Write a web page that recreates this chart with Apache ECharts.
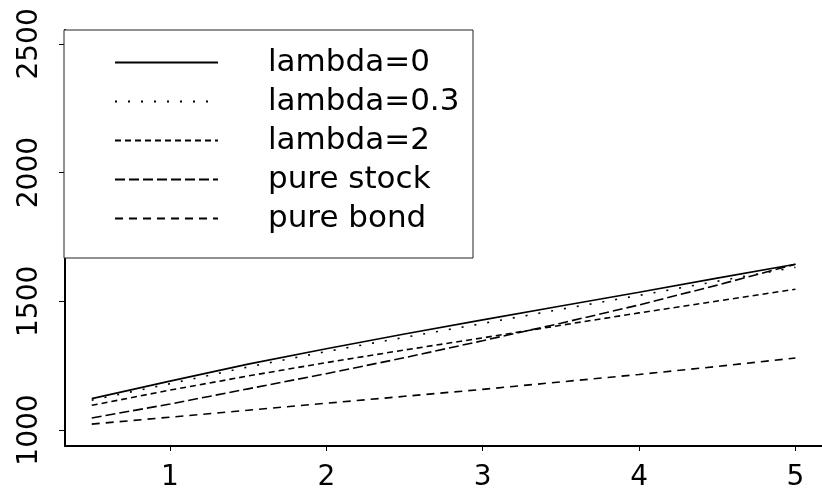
<!DOCTYPE html>
<html>
<head>
<meta charset="utf-8">
<script src="https://cdn.jsdelivr.net/npm/echarts@6/dist/echarts.min.js"></script>
<style>
html,body{margin:0;padding:0;background:#fff;}
#c{width:822px;height:492px;}
</style>
</head>
<body>
<div id="c"></div>
<script>
var xs = [0.5, 1, 1.5, 2, 2.5, 3, 3.5, 4, 4.5, 5];
var seriesNames = ['lambda=0', 'lambda=0.3', 'lambda=2', 'pure stock', 'pure bond'];
var lambda0   = [1122, 1190, 1256, 1316, 1373, 1428, 1482, 1535, 1590, 1644];
var lambda03  = [1116, 1180, 1245, 1305, 1360, 1414, 1469, 1523, 1578, 1632];
var lambda2   = [1096, 1155, 1210, 1262, 1311, 1358, 1407, 1455, 1501, 1547];
var pureStock = [1047, 1101, 1160, 1219, 1281, 1347, 1415, 1486, 1563, 1644];
var pureBond  = [1023, 1050, 1077, 1104, 1131, 1158, 1187, 1216, 1247, 1280];
var xTicks = [1, 2, 3, 4, 5];
var yTicks = [1000, 1500, 2000, 2500];

var values = [lambda0, lambda03, lambda2, pureStock, pureBond];
var dashes = ['solid', [2, 11], [6, 4], [10, 4], [8, 6]];

function pairs(v){ return xs.map(function(x,i){ return [x, v[i]]; }); }

var chart = echarts.init(document.getElementById('c'), null, {renderer:'canvas'});
var FONT = '"DejaVu Sans", sans-serif';
chart.setOption({
  animation: false,
  backgroundColor: '#fff',
  grid: {left: 65, right: 0, top: 30, bottom: 43},
  xAxis: {
    type: 'value', min: 0.329, max: 5.17,
    axisLine: {show: true, lineStyle: {color: '#000', width: 2}},
    axisTick: {show: true, length: 5, lineStyle: {color: '#000', width: 1}, customValues: xTicks},
    axisLabel: {color: '#000', fontSize: 28, fontFamily: FONT, margin: 18, customValues: xTicks,
                formatter: function(v){ return String(v); }},
    splitLine: {show: false}
  },
  yAxis: {
    type: 'value', min: 938, max: 2554,
    axisLine: {show: true, lineStyle: {color: '#000', width: 2}},
    axisTick: {show: true, length: 6, lineStyle: {color: '#000', width: 1}, customValues: yTicks},
    axisLabel: {color: '#000', fontSize: 28, fontFamily: FONT, rotate: 90, margin: 21, customValues: yTicks,
                formatter: function(v){ return String(v); }},
    splitLine: {show: false}
  },
  legend: {
    orient: 'vertical', left: 64, top: 30,
    data: seriesNames,
    itemWidth: 103, itemHeight: 14, itemGap: 0,
    padding: [13, 9, 20, 50],
    borderColor: '#222', borderWidth: 1,
    backgroundColor: '#fff',
    itemStyle: {opacity: 0},
    textStyle: {color: '#000', fontSize: 31, fontFamily: FONT, lineHeight: 39, padding: [0, 0, 0, 45], width: 196},
    selectedMode: false
  },
  series: seriesNames.map(function(n, i){
    return {
      name: n, type: 'line', data: pairs(values[i]),
      symbol: 'none', smooth: false,
      lineStyle: {color: '#000', width: 1.6, type: dashes[i], cap: 'butt'},
      itemStyle: {color: '#000'},
      z: 1
    };
  })
});
</script>
</body>
</html>
